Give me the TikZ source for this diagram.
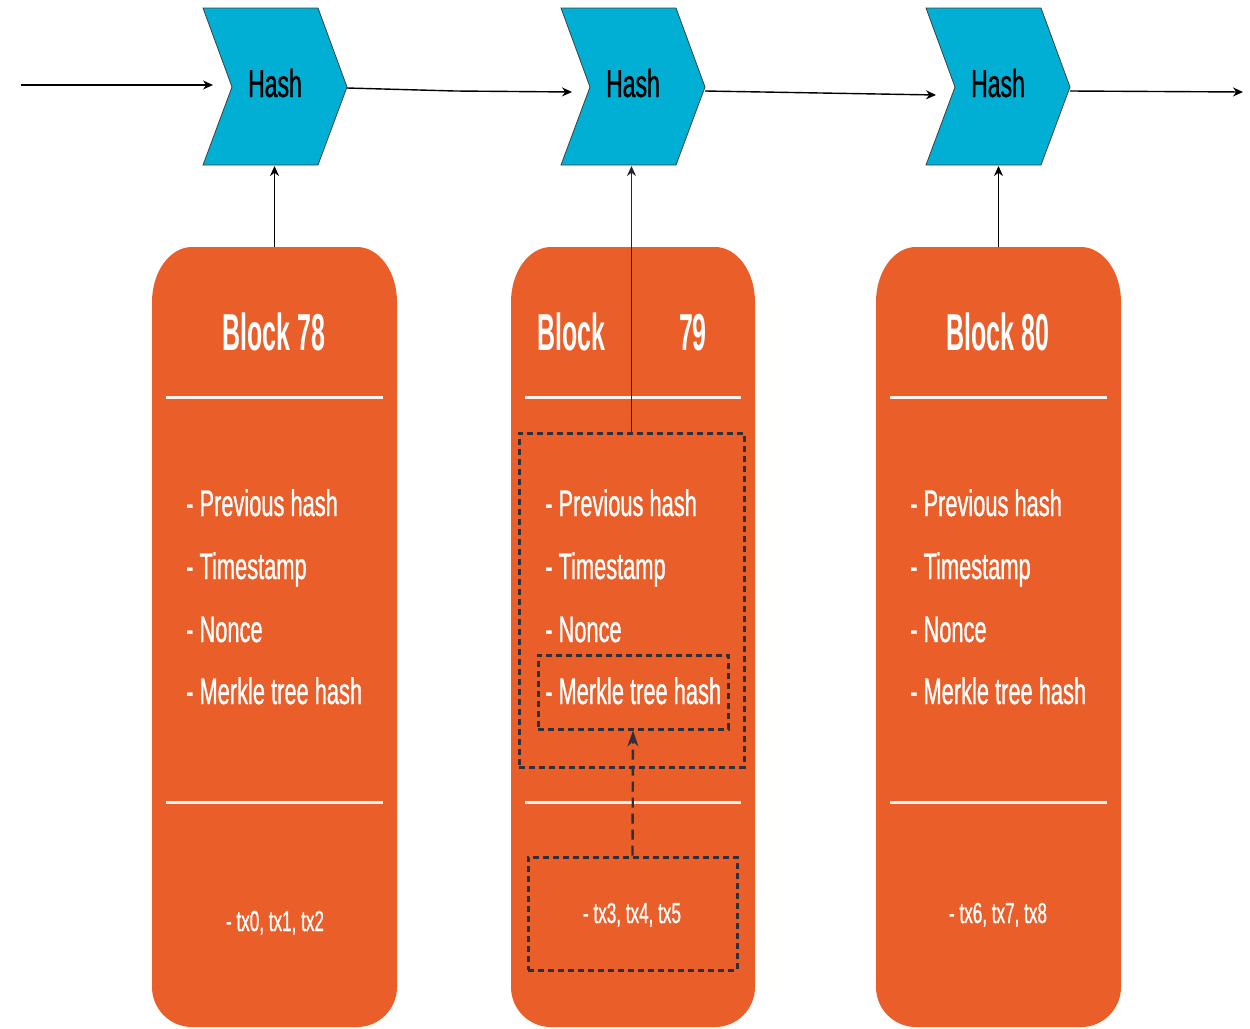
\documentclass[tikz,border=0pt]{standalone}
\usepackage{fontspec}
\setmainfont{Liberation Sans}
\newfontfamily\narrowfont[FakeStretch=0.59, FakeBold=0.8]{Liberation Sans}
\newfontfamily\titlefont[FakeStretch=0.48]{Liberation Sans}
\usetikzlibrary{arrows.meta}

\definecolor{chainblue}{RGB}{0,175,211}
\definecolor{blockorange}{RGB}{234,94,42}
\definecolor{dashgray}{RGB}{45,48,54}
\definecolor{navy}{RGB}{24,48,64}

\tikzset{
  hashtext/.style={font=\narrowfont\fontsize{39}{39}\selectfont, anchor=base, inner sep=0},
  blocktitle/.style={font=\titlefont\bfseries\fontsize{52}{52}\selectfont, text=white, inner sep=0},
  item/.style={font=\narrowfont\fontsize{37}{37}\selectfont, text=white, anchor=base west, inner sep=0},
  txtext/.style={font=\narrowfont\fontsize{29}{29}\selectfont, text=white, anchor=base, inner sep=0},
  link/.style={draw=black, line width=1.4, -{Stealth[length=10,width=9]}},
  seprule/.style={draw=white!92!blockorange, line width=3},
  frame/.style={draw=dashgray, line width=3, dash pattern=on 6 off 4, inner sep=0},
  dashlink/.style={draw=dashgray, line width=2.4, dash pattern=on 10 off 6,
    -{Stealth[length=16,width=11,fill=navy]}},
}

% chevron: name, left x, tip height
\newcommand\chevron[3]{%
  \path[fill=chainblue, draw=black!75, line width=0.8]
    (#2,8) -- ++(115,0) -- ++(29,79) -- ++(-29,78) -- ++(-115,0) -- ++(29,-78) -- cycle;
  \coordinate (#1-tip) at (#2+144,#3);
  \coordinate (#1-bot) at (#2+72,166);
  \node[hashtext] (#1-label) at (#2+72,97) {Hash};
}

% block body: name, left x, right x
\newcommand\blockbody[3]{%
  \fill[blockorange] (#2,302)
    arc[start angle=180, end angle=270, x radius=40, y radius=55]
    -- (#3-40,247)
    arc[start angle=270, end angle=360, x radius=40, y radius=55]
    -- (#3,987)
    arc[start angle=0, end angle=90, x radius=40, y radius=40]
    -- (#2+40,1027)
    arc[start angle=90, end angle=180, x radius=40, y radius=40]
    -- cycle;
  \coordinate (#1-top) at ({(#2+#3)/2},247);
  \draw[seprule] (#2+14,397) -- (#3-14,397);
  \draw[seprule] (#2+14,802) -- (#3-14,802);
}

% list of header fields: name, left x
\newcommand\fields[2]{%
  \node[item] (#1-prev)   at (#2,516) {- Previous hash};
  \node[item] (#1-time)   at (#2,579) {- Timestamp};
  \node[item] (#1-nonce)  at (#2,642) {- Nonce};
  \node[item] (#1-merkle) at (#2,704) {- Merkle tree hash};
}

\begin{document}
\begin{tikzpicture}[x=1pt, y=-1pt]
  \useasboundingbox (0,0) rectangle (1250,1028);

  % hash chevrons
  \chevron{hA}{203}{88}
  \chevron{hB}{561}{91}
  \chevron{hC}{926}{91}

  % chain arrows
  \coordinate (start) at (21,85);
  \coordinate (hA-in) at (213,85);
  \coordinate (bend) at (455,91);
  \coordinate (hB-in) at (572,92);
  \coordinate (hC-in) at (936,95);
  \coordinate (finish) at (1243,92);
  \draw[link] (start) -- (hA-in);
  \draw[link] (hA-tip) -- (bend) -- (hB-in);
  \draw[link] (hB-tip) -- (hC-in);
  \draw[link] (hC-tip) -- (finish);

  % blocks
  \blockbody{bA}{152}{397}
  \blockbody{bB}{511}{755}
  \blockbody{bC}{876}{1121}

  % titles
  \node[blocktitle, anchor=base] (tA) at (274,350) {Block 78};
  \node[blocktitle, anchor=base west] (tB1) at (537,350) {Block};
  \node[blocktitle, anchor=base east] (tB2) at (707,350) {79};
  \node[blocktitle, anchor=base] (tC) at (998,350) {Block 80};

  % header fields
  \fields{fA}{186}
  \fields{fB}{545}
  \fields{fC}{910}

  % transactions
  \node[txtext] (xA) at (275,931) {- tx0, tx1, tx2};
  \node[txtext] (xC) at (998,923) {- tx6, tx7, tx8};

  % block 79 hashing detail
  \node[frame, minimum width=225, minimum height=334] (hdr) at (631.5,600) {};
  \node[frame, minimum width=190, minimum height=74] (merkle) at (633,692) {};
  \node[frame, minimum width=209, minimum height=113] (txbox) at (632.5,913.5) {};
  \node[txtext] (xB) at (632,923) {- tx3, tx4, tx5};

  % header-to-hash links
  \draw[link] (bA-top) -- (bA-top |- hA-bot);
  \draw[link, draw=black!85] (hdr.north) -- (hdr.north |- hB-bot);
  \draw[link] (bC-top) -- (bC-top |- hC-bot);
  \draw[dashlink] (txbox.north) -- (merkle.south);
\end{tikzpicture}
\end{document}
